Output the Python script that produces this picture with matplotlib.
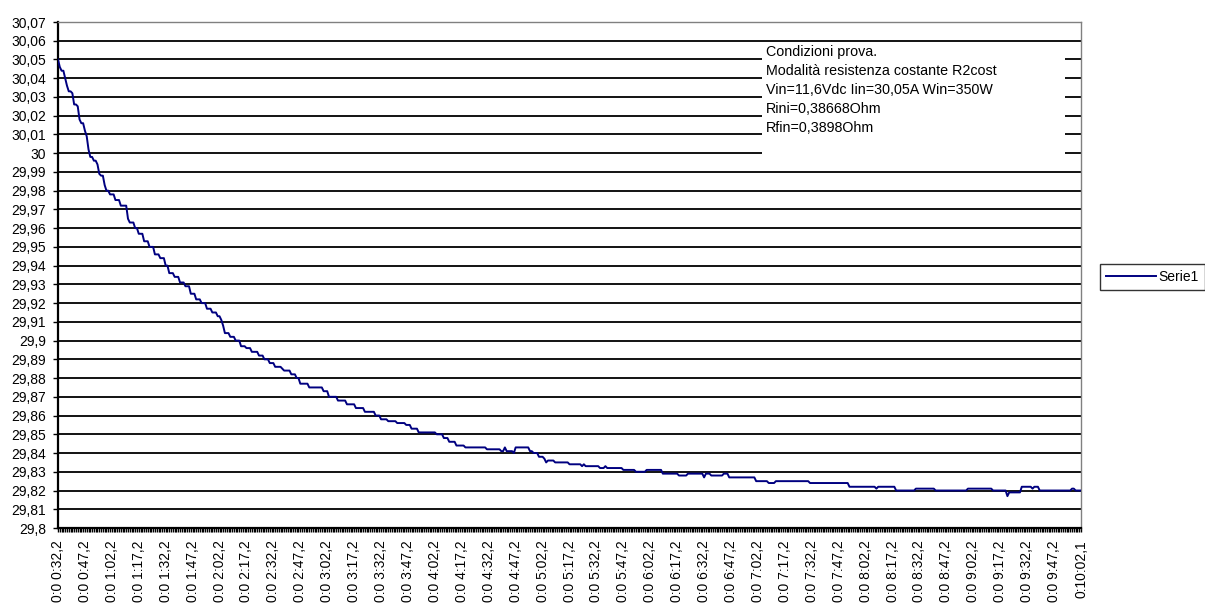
import numpy as np
import matplotlib
matplotlib.use('Agg')
import matplotlib.pyplot as plt
from matplotlib.patches import Rectangle

plt.rcParams['font.family'] = ['Liberation Sans', 'DejaVu Sans']

# corrente letta (A): valore di ogni gradino e numero di campioni consecutivi
run_values = [
    30.050, 30.046, 30.044, 30.040, 30.036, 30.033, 30.032, 30.026, 30.025, 30.018,
    30.016, 30.012, 30.009, 30.002, 29.998, 29.996, 29.994, 29.989, 29.988, 29.983,
    29.980, 29.978, 29.975, 29.972, 29.965, 29.963, 29.960, 29.957, 29.953, 29.950,
    29.946, 29.944, 29.940, 29.936, 29.934, 29.931, 29.929, 29.925, 29.922, 29.920,
    29.917, 29.915, 29.913, 29.911, 29.908, 29.904, 29.902, 29.900, 29.897, 29.896,
    29.894, 29.892, 29.890, 29.888, 29.886, 29.885, 29.884, 29.882, 29.880, 29.877,
    29.875, 29.873, 29.870, 29.868, 29.866, 29.864, 29.862, 29.860, 29.858, 29.857,
    29.856, 29.855, 29.853, 29.851, 29.850, 29.848, 29.846, 29.844, 29.843, 29.842,
    29.841, 29.843, 29.841, 29.840, 29.843, 29.841, 29.840, 29.838, 29.837, 29.835,
    29.836, 29.835, 29.834, 29.833, 29.834, 29.833, 29.832, 29.833, 29.832, 29.831,
    29.830, 29.831, 29.829, 29.828, 29.829, 29.827, 29.829, 29.828, 29.829, 29.827,
    29.825, 29.824, 29.825, 29.824, 29.822, 29.821, 29.822, 29.820, 29.821, 29.820,
    29.821, 29.820, 29.817, 29.819, 29.822, 29.821, 29.822, 29.820, 29.821, 29.820,
]
run_lengths = [
    1, 1, 2, 1, 1, 2, 1, 2, 1, 1,
    2, 1, 1, 1, 2, 2, 1, 1, 2, 1,
    2, 3, 3, 4, 1, 3, 2, 3, 3, 3,
    3, 3, 2, 3, 3, 3, 3, 3, 3, 3,
    3, 3, 2, 1, 1, 3, 3, 3, 3, 3,
    4, 3, 3, 3, 4, 1, 4, 3, 2, 5,
    8, 3, 5, 5, 5, 5, 6, 3, 4, 5,
    5, 3, 4, 10, 4, 3, 4, 5, 12, 8,
    2, 1, 4, 1, 8, 2, 3, 3, 1, 1,
    4, 8, 7, 1, 1, 8, 3, 1, 9, 7,
    6, 9, 9, 5, 9, 1, 3, 7, 3, 15,
    7, 4, 19, 22, 15, 1, 10, 11, 11, 18,
    14, 8, 1, 7, 6, 1, 3, 18, 2, 4,
]

tick_labels = [
    '0:0 0:32,2', '0:0 0:47,2', '0:0 1:02,2', '0:0 1:17,2', '0:0 1:32,2',
    '0:0 1:47,2', '0:0 2:02,2', '0:0 2:17,2', '0:0 2:32,2', '0:0 2:47,2',
    '0:0 3:02,2', '0:0 3:17,2', '0:0 3:32,2', '0:0 3:47,2', '0:0 4:02,2',
    '0:0 4:17,2', '0:0 4:32,2', '0:0 4:47,2', '0:0 5:02,2', '0:0 5:17,2',
    '0:0 5:32,2', '0:0 5:47,2', '0:0 6:02,2', '0:0 6:17,2', '0:0 6:32,2',
    '0:0 6:47,2', '0:0 7:02,2', '0:0 7:17,2', '0:0 7:32,2', '0:0 7:47,2',
    '0:0 8:02,2', '0:0 8:17,2', '0:0 8:32,2', '0:0 8:47,2', '0:0 9:02,2',
    '0:0 9:17,2', '0:0 9:32,2', '0:0 9:47,2', '0:10:02,1',
]

y_labels = ['29,8', '29,81', '29,82', '29,83', '29,84', '29,85', '29,86', '29,87',
            '29,88', '29,89', '29,9', '29,91', '29,92', '29,93', '29,94', '29,95',
            '29,96', '29,97', '29,98', '29,99', '30', '30,01', '30,02', '30,03',
            '30,04', '30,05', '30,06', '30,07']

note_lines = ['Condizioni prova.',
              'Modalità resistenza costante R2cost',
              'Vin=11,6Vdc Iin=30,05A Win=350W',
              'Rini=0,38668Ohm',
              'Rfin=0,3898Ohm']

series_name = 'Serie1'

y = np.repeat(run_values, run_lengths)
x = np.arange(len(y))
n_last = len(y) - 1
tick_pos = list(range(0, 15 * (len(tick_labels) - 1), 15)) + [n_last]
y_ticks = np.round(29.80 + 0.01 * np.arange(len(y_labels)), 2)

W, H = 1205, 606
fig = plt.figure(figsize=(W / 100, H / 100), dpi=100)
ax = fig.add_axes([58 / W, 1 - 528 / H, (1081 - 58) / W, (528 - 22) / H])

ax.plot(x, y, color='#000080', lw=1.4, zorder=3, label=series_name)

ax.set_xlim(0, n_last)
ax.set_ylim(29.80, 30.07)
ax.set_yticks(y_ticks)
ax.set_yticklabels(y_labels, fontsize=10)
ax.set_xticks(tick_pos)
ax.set_xticklabels(tick_labels, rotation=90, fontsize=10, va='top')
ax.set_xticks(x, minor=True)

ax.grid(axis='y', color='black', lw=1.3)
for gl in ax.get_ygridlines()[-1:]:
    gl.set_visible(False)

ax.tick_params(axis='y', direction='out', length=3.6, width=1, pad=5)
ax.tick_params(axis='x', which='both', direction='out', length=3.2, width=1.0, pad=5.5)

for side in ['left', 'bottom']:
    ax.spines[side].set_linewidth(1.6)
    ax.spines[side].set_color('black')
for side in ['top', 'right']:
    ax.spines[side].set_linewidth(1)
    ax.spines[side].set_color('#808080')

# riquadro note
fig.add_artist(Rectangle((762 / W, 1 - 160 / H), 303 / W, 117 / H,
                         transform=fig.transFigure, facecolor='white',
                         edgecolor='none', zorder=1))
for k, line in enumerate(note_lines):
    fig.text(766 / W, 1 - (51.7 + 19 * k) / H, line, fontsize=10.3,
             va='center', ha='left', zorder=2)

leg = ax.legend(loc='center left', bbox_to_anchor=(1100 / W, 1 - 277 / H),
                bbox_transform=fig.transFigure, fontsize=10, frameon=True,
                fancybox=False, edgecolor='black', handlelength=3.6,
                handletextpad=0.15, borderpad=0.45, borderaxespad=0)
leg.get_frame().set_linewidth(1.0)

fig.savefig('out.png', dpi=100)
